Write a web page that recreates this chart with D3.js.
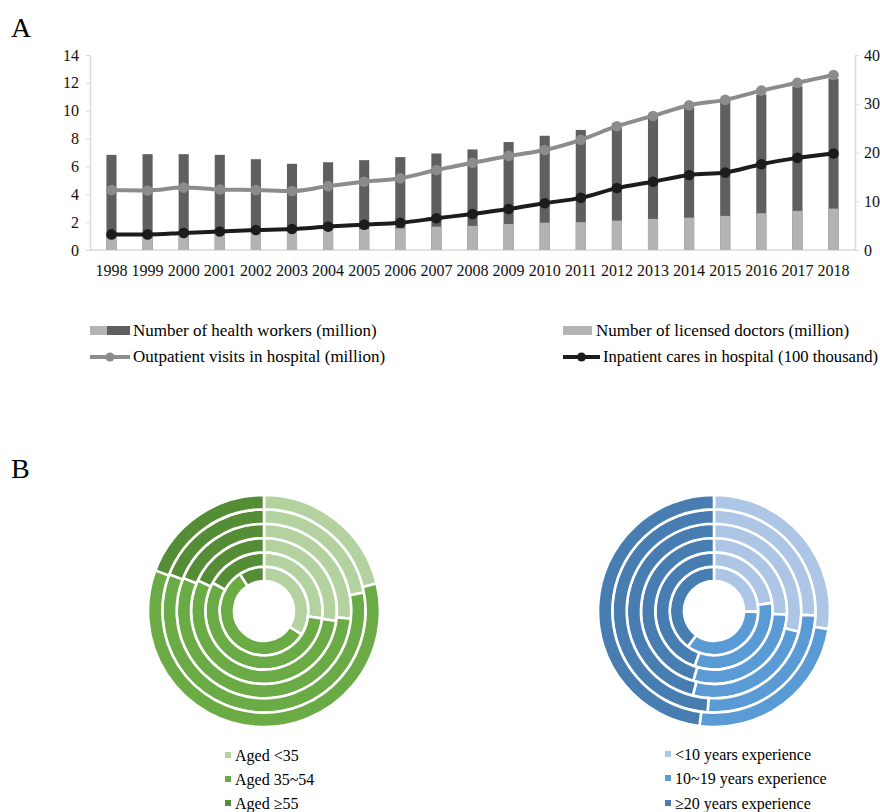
<!DOCTYPE html>
<html>
<head>
<meta charset="utf-8">
<script src="https://cdn.jsdelivr.net/npm/d3@7"></script>
<style>
  body { margin: 0; background: #fff; }
  svg { display: block; font-family: "Liberation Serif", "Times New Roman", serif; }
</style>
</head>
<body>
<svg id="chart" width="880" height="812"></svg>
<script>
// Panel A data
const years = ['1998', '1999', '2000', '2001', '2002', '2003', '2004', '2005', '2006', '2007', '2008',
    '2009', '2010', '2011', '2012', '2013', '2014', '2015', '2016', '2017', '2018'];
const healthWorkers = [6.83, 6.88, 6.88, 6.83, 6.52, 6.19, 6.30, 6.45, 6.67, 6.93, 7.22,
    7.75, 8.20, 8.62, 9.11, 9.79, 10.23, 10.69, 11.17, 11.75, 12.30];
const licensedDoctors = [1.20, 1.25, 1.30, 1.30, 1.30, 1.40, 1.45, 1.50, 1.55, 1.68, 1.73,
    1.87, 1.96, 2.00, 2.11, 2.23, 2.32, 2.45, 2.64, 2.81, 2.97];
const outpatientVisits = [12.3, 12.2, 12.8, 12.4, 12.3, 12.1, 13.1, 14.0, 14.7, 16.4, 17.9,
    19.3, 20.5, 22.6, 25.4, 27.5, 29.7, 30.8, 32.7, 34.3, 35.9];
const inpatientCares = [3.2, 3.2, 3.5, 3.8, 4.1, 4.3, 4.8, 5.2, 5.6, 6.5, 7.4,
    8.4, 9.6, 10.7, 12.7, 14.0, 15.4, 15.9, 17.6, 18.9, 19.8];
const leftTicks = [0, 2, 4, 6, 8, 10, 12, 14];
const rightTicks = [0, 10, 20, 30, 40];

// Panel B data: percentage shares per ring, inner ring first
const ageGroups = ['Aged <35', 'Aged 35~54', 'Aged \u226555'];
const ageShares = [
    [33.9, 56.9, 9.2],
    [27.0, 56.0, 17.0],
    [27.2, 54.7, 18.1],
    [26.4, 54.8, 18.8],
    [22.1, 58.8, 19.1],
    [21.2, 59.5, 19.3]
];
const expGroups = ['<10 years experience', '10~19 years experience', '\u226520 years experience'];
const expShares = [
    [25.3, 34.8, 39.9],
    [22.8, 32.6, 44.6],
    [25.8, 28.8, 45.4],
    [28.8, 25.1, 46.1],
    [25.7, 25.3, 49.0],
    [27.5, 24.5, 48.0]
];

const svg = d3.select('#chart');
const fontSize = 16;
const legendSize = 17;

// ---------- Panel A ----------
const plot = {left: 90, right: 855, top: 55, bottom: 250};

svg.append('text')
    .attr('x', 11).attr('y', 37)
    .style('font-size', '28px')
    .text('A');

const xScale = d3.scaleBand()
    .domain(years)
    .range([plot.left, plot.right])
    .paddingInner(0.72)
    .paddingOuter(0.455);

const yLeft = d3.scaleLinear().domain([0, 14]).range([plot.bottom, plot.top]);
const yRight = d3.scaleLinear().domain([0, 40]).range([plot.bottom, plot.top]);

const axisColor = '#d9d9d9';

// Left axis
const gLeft = svg.append('g')
    .attr('transform', `translate(${plot.left},0)`)
    .call(d3.axisLeft(yLeft).tickValues(leftTicks).tickSize(4).tickPadding(7).tickSizeOuter(0));
// Right axis
const gRight = svg.append('g')
    .attr('transform', `translate(${plot.right},0)`)
    .call(d3.axisRight(yRight).tickValues(rightTicks).tickSize(4).tickPadding(5).tickSizeOuter(0));
// Bottom axis
const gBottom = svg.append('g')
    .attr('transform', `translate(0,${plot.bottom})`)
    .call(d3.axisBottom(xScale).tickSize(0).tickPadding(15).tickSizeOuter(0));

[gLeft, gRight, gBottom].forEach(g => {
    g.attr('font-family', null).attr('font-size', null);
    g.selectAll('path.domain').attr('stroke', axisColor).attr('stroke-width', 1.5);
    g.selectAll('.tick line').attr('stroke', axisColor);
    g.selectAll('text').style('font-size', fontSize + 'px').attr('fill', '#111');
});
gBottom.select('path.domain').attr('d', `M${plot.left},0H${plot.right}`);

const darkBar = '#5f5f5f';
const lightBar = '#b3b3b3';
const outColor = '#8c8c8c';
const inColor = '#1c1c1c';

// Bars: total health workers (dark) with licensed doctors (light) at the bottom
svg.selectAll('.bar-total')
    .data(years)
    .enter()
    .append('rect')
    .attr('class', 'bar-total')
    .attr('x', d => xScale(d))
    .attr('y', (d, i) => yLeft(healthWorkers[i]))
    .attr('width', xScale.bandwidth())
    .attr('height', (d, i) => yLeft(0) - yLeft(healthWorkers[i]))
    .attr('fill', darkBar);

svg.selectAll('.bar-doc')
    .data(years)
    .enter()
    .append('rect')
    .attr('class', 'bar-doc')
    .attr('x', d => xScale(d))
    .attr('y', (d, i) => yLeft(licensedDoctors[i]))
    .attr('width', xScale.bandwidth())
    .attr('height', (d, i) => yLeft(0) - yLeft(licensedDoctors[i]))
    .attr('fill', lightBar);

function drawLine(values, color) {
    const pts = years.map((y, i) => [xScale(y) + xScale.bandwidth() / 2, yRight(values[i])]);
    svg.append('path')
        .attr('d', d3.line().curve(d3.curveMonotoneX)(pts))
        .attr('fill', 'none')
        .attr('stroke', color)
        .attr('stroke-width', 4);
    svg.append('g').selectAll('circle')
        .data(pts)
        .enter()
        .append('circle')
        .attr('cx', d => d[0])
        .attr('cy', d => d[1])
        .attr('r', 5.3)
        .attr('fill', color);
}
drawLine(outpatientVisits, outColor);
drawLine(inpatientCares, inColor);

// Legend A
const legA = svg.append('g');
legA.append('rect').attr('x', 90).attr('y', 326).attr('width', 17).attr('height', 9).attr('fill', lightBar);
legA.append('rect').attr('x', 107).attr('y', 326).attr('width', 23).attr('height', 9).attr('fill', darkBar);
legA.append('text').attr('x', 133).attr('y', 336).style('font-size', legendSize + 'px')
    .text('Number of health workers (million)');

legA.append('rect').attr('x', 563).attr('y', 326).attr('width', 29).attr('height', 9).attr('fill', lightBar);
legA.append('text').attr('x', 596).attr('y', 336).style('font-size', legendSize + 'px')
    .text('Number of licensed doctors (million)');

function lineKey(x0, x1, y, color, label, size) {
    legA.append('line').attr('x1', x0).attr('x2', x1).attr('y1', y).attr('y2', y)
        .attr('stroke', color).attr('stroke-width', 4);
    legA.append('circle').attr('cx', (x0 + x1) / 2).attr('cy', y).attr('r', 4.5).attr('fill', color);
    legA.append('text').attr('x', x1 + 3).attr('y', y + 5).style('font-size', size + 'px').text(label);
}
lineKey(90, 130, 357, outColor, 'Outpatient visits in hospital (million)', legendSize);
lineKey(563, 600, 357, inColor, 'Inpatient cares in hospital (100 thousand)', 16.6);

// ---------- Panel B ----------
svg.append('text')
    .attr('x', 11).attr('y', 478)
    .style('font-size', '28px')
    .text('B');

const innerR = 30;
const ringW = 14.33;
const pie = d3.pie().sort(null).value(d => d);

function drawDonut(cx, cy, shares, colors) {
    const g = svg.append('g').attr('transform', `translate(${cx},${cy})`);
    shares.forEach((ring, k) => {
        const arc = d3.arc()
            .innerRadius(innerR + k * ringW)
            .outerRadius(innerR + (k + 1) * ringW);
        g.selectAll(null)
            .data(pie(ring))
            .enter()
            .append('path')
            .attr('d', arc)
            .attr('fill', (d, i) => colors[i])
            .attr('stroke', '#fff')
            .attr('stroke-width', 2.6);
    });
}

const greens = ['#b3d2a0', '#6aab46', '#558d36'];
const blues = ['#adc6e6', '#5b9bd5', '#487db1'];
drawDonut(264, 611, ageShares, greens);
drawDonut(714, 611, expShares, blues);

function donutLegend(x, ys, labels, colors) {
    const g = svg.append('g');
    labels.forEach((lab, i) => {
        g.append('rect').attr('x', x).attr('y', ys[i] - 3).attr('width', 6).attr('height', 6).attr('fill', colors[i]);
        g.append('text').attr('x', x + 10).attr('y', ys[i] + 5.5).style('font-size', fontSize + 'px').text(lab);
    });
}
donutLegend(225, [755, 779, 803], ageGroups, greens);
donutLegend(665, [754, 778, 803], expGroups, blues);
</script>
</body>
</html>
